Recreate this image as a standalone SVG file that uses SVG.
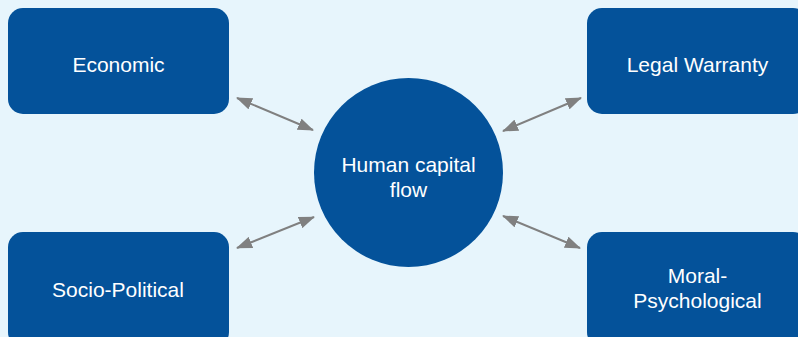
<svg xmlns="http://www.w3.org/2000/svg" width="798" height="337" viewBox="0 0 798 337">
<style>
.node{fill:#04529a}
.lbl{font-family:"Liberation Sans",Arial,sans-serif;font-size:21px;fill:#ffffff;text-anchor:middle}
.conn{stroke:#808080;stroke-width:2;fill:none;marker-start:url(#ah);marker-end:url(#ah)}
</style>
<defs>
<marker id="ah" viewBox="0 0 16 12" refX="15" refY="6" markerWidth="16" markerHeight="12" markerUnits="userSpaceOnUse" orient="auto-start-reverse">
<path d="M0,0 L16,6 L0,12 Z" fill="#808080"/>
</marker>
</defs>
<rect width="798" height="337" fill="#e7f5fc"/>
<g id="economic"><rect class="node" x="8" y="8" width="221" height="106" rx="15"/><text class="lbl" x="118.5" y="72">Economic</text></g>
<g id="legal-warranty"><rect class="node" x="587" y="8" width="221" height="106" rx="15"/><text class="lbl" x="697.5" y="72">Legal Warranty</text></g>
<g id="socio-political"><rect class="node" x="8" y="232" width="221" height="115" rx="15"/><text class="lbl" x="118" y="297">Socio-Political</text></g>
<g id="moral-psychological"><rect class="node" x="587" y="232" width="221" height="115" rx="15"/><text class="lbl" x="697.5" y="283">Moral-</text><text class="lbl" x="697.5" y="308">Psychological</text></g>
<g id="human-capital-flow"><circle class="node" cx="408.5" cy="172.5" r="94.5"/><text class="lbl" x="408.5" y="172">Human capital</text><text class="lbl" x="408.5" y="197">flow</text></g>
<g id="connectors">
<line class="conn" x1="237" y1="98" x2="313" y2="130"/>
<line class="conn" x1="503" y1="131" x2="581" y2="98"/>
<line class="conn" x1="237" y1="248" x2="314" y2="217"/>
<line class="conn" x1="503" y1="216" x2="580" y2="248"/>
</g>
</svg>
